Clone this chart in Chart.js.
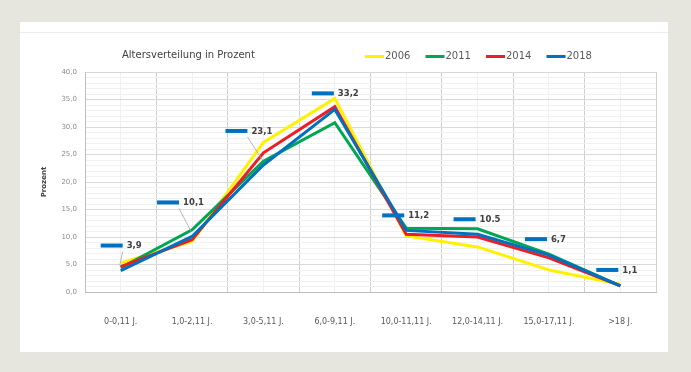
<!DOCTYPE html>
<html>
<head>
<meta charset="utf-8">
<script src="https://cdn.jsdelivr.net/npm/chart.js@4"></script>
<style>
  body { margin: 0; background: #e6e6de; }
  #card { position: absolute; left: 20px; top: 22px; width: 648px; height: 330px; background: #fff; }
  #card .topline { position: absolute; left: 0; right: 0; top: 10px; height: 1px; background: #ececec; }
  canvas { position: absolute; left: 0; top: 0; }
</style>
</head>
<body>
<div id="card">
  <div class="topline"></div>
  <canvas id="ageChart" width="648" height="330"></canvas>
</div>
<script>
// Altersverteilung in Prozent
const categories = ['0-0,11 J.', '1,0-2,11 J.', '3,0-5,11 J.', '6,0-9,11 J.', '10,0-11,11 J.', '12,0-14,11 J.', '15,0-17,11 J.', '>18 J.'];
const years = ['2006', '2011', '2014', '2018'];
const values2006 = [5.3, 9.2, 27.2, 35.2, 10.2, 8.2, 4.0, 1.4];
const values2011 = [4.4, 11.3, 23.8, 30.8, 11.6, 11.5, 6.9, 1.1];
const values2014 = [4.6, 9.5, 25.3, 33.7, 10.5, 10.0, 6.2, 1.1];
const values2018 = [3.9, 10.1, 23.1, 33.2, 11.2, 10.5, 6.7, 1.1];
const labels2018 = ['3,9', '10,1', '23,1', '33,2', '11,2', '10.5', '6,7', '1,1'];

const colors = ['#fff200', '#00a650', '#ee1c25', '#0070c0'];
const font = 'DejaVu Sans';

// label placement relative to the point (left end of the blue dash)
const labelOffsets = [[-20, -25], [-35, -34], [-38, -34], [-23, -16], [-24, -15], [-24, -15], [-24, -16], [-24, -16]];
const leaderLines = [true, true, true, false, false, false, false, false];

const extras = {
    id: 'extras',
    afterDatasetsDraw(chart) {
        const ctx = chart.ctx;
        const meta = chart.getDatasetMeta(0); // 2018
        ctx.save();
        meta.data.forEach((pt, i) => {
            const lx = pt.x + labelOffsets[i][0];
            const ly = pt.y + labelOffsets[i][1];
            if (leaderLines[i]) {
                ctx.strokeStyle = '#a6a6a6';
                ctx.lineWidth = 0.8;
                ctx.beginPath();
                ctx.moveTo(lx + 22, ly + 6);
                ctx.lineTo(pt.x - 1, pt.y - 5);
                ctx.stroke();
            }
            ctx.fillStyle = colors[3];
            ctx.fillRect(lx, ly - 2, 22, 4);
            ctx.fillStyle = '#404040';
            ctx.font = 'bold 8.5px "' + font + '"';
            ctx.textBaseline = 'middle';
            ctx.textAlign = 'left';
            ctx.fillText(labels2018[i], lx + 26, ly + 0.5);
        });

        // title
        ctx.fillStyle = '#404040';
        ctx.font = '10px "' + font + '"';
        ctx.fillText('Altersverteilung in Prozent', 102, 33);

        // legend
        years.forEach((y, i) => {
            const x = 345 + i * 60.5;
            ctx.fillStyle = colors[i];
            ctx.fillRect(x, 33, 19, 3);
            ctx.fillStyle = '#595959';
            ctx.font = '10px "' + font + '"';
            ctx.fillText(y, x + 20, 34.5);
        });
        ctx.restore();
    }
};

const ctx = document.getElementById('ageChart').getContext('2d');
new Chart(ctx, {
    type: 'line',
    data: {
        labels: categories,
        datasets: [
            { label: '2018', data: values2018, borderColor: colors[3], backgroundColor: colors[3] },
            { label: '2014', data: values2014, borderColor: colors[2], backgroundColor: colors[2] },
            { label: '2011', data: values2011, borderColor: colors[1], backgroundColor: colors[1] },
            { label: '2006', data: values2006, borderColor: colors[0], backgroundColor: colors[0] }
        ].map(d => Object.assign(d, { borderWidth: 3, pointRadius: 0, tension: 0, fill: false }))
    },
    options: {
        responsive: false,
        animation: false,
        layout: { padding: { left: 0, right: 12, top: 50, bottom: 25 } },
        plugins: {
            legend: { display: false },
            tooltip: { enabled: false }
        },
        scales: {
            x: {
                offset: true,
                afterFit(scale) { scale.height = 35; },
                grid: { offset: true, color: '#d0d0d0', drawTicks: false },
                border: { color: '#bfbfbf' },
                ticks: {
                    autoSkip: false, maxRotation: 0, padding: 25,
                    color: '#595959', font: { family: font, size: 8 }
                }
            },
            x2: {
                position: 'bottom',
                offset: true,
                afterFit(scale) { scale.height = 0; },
                grid: { offset: false, color: '#f0f0f0', drawTicks: false },
                border: { display: false },
                ticks: { display: false }
            },
            y: {
                min: 0,
                max: 40,
                afterFit(scale) { scale.width = 65; },
                grid: {
                    drawTicks: false,
                    color: c => (c.tick && c.tick.value % 5 === 0) ? '#d9d9d9' : '#f1f1f1'
                },
                border: { color: '#bfbfbf' },
                ticks: {
                    stepSize: 1,
                    autoSkip: false,
                    padding: 8,
                    color: '#8c8c8c',
                    font: { family: font, size: 7 },
                    callback: v => v % 5 === 0 ? v.toFixed(1).replace('.', ',') : ''
                },
                title: {
                    display: true,
                    text: 'Prozent',
                    color: '#404040',
                    padding: { top: 20, bottom: 0 },
                    font: { family: font, size: 7, weight: 'bold' }
                }
            }
        }
    },
    plugins: [extras]
});
</script>
</body>
</html>
